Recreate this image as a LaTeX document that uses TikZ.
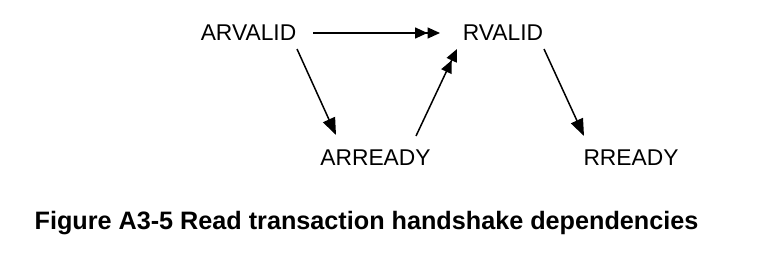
\documentclass[tikz,border=0pt]{standalone}
\usepackage{fontspec}
\setmainfont{Liberation Sans}
\usetikzlibrary{arrows.meta,calc}
\begin{document}
\begin{tikzpicture}[x=1pt,y=-1pt,
  signal/.style={inner sep=0pt,font=\fontsize{22.8}{26}\selectfont},
  dep/.style={line width=1.5pt,-{Triangle[length=17pt,width=13pt]}},
  ddep/.style={line width=1.5pt,-{Triangle[length=12.5pt,width=11pt]Triangle[length=12.5pt,width=11pt]}}]
  \useasboundingbox (0,0) rectangle (767,259);
  % signal names
  \node[signal] (arvalid) at (248.5,33) {ARVALID};
  \node[signal] (rvalid)  at (503,33)   {RVALID};
  \node[signal] (arready) at (375.5,158) {ARREADY};
  \node[signal] (rready)  at (631,158)  {RREADY};
  % caption
  \node[inner sep=0pt,font=\bfseries\fontsize{25.2}{28}\selectfont] (caption) at (366.5,223)
    {Figure A3-5 Read transaction handshake dependencies};
  % dependency arrows
  \draw[ddep] ($(arvalid.center)+(64.5,0)$) -- ($(rvalid.center)+(-63,0)$);
  \draw[dep]  ($(arvalid.center)+(48.5,16)$) -- ($(arready.center)+(-39.5,-23)$);
  \draw[ddep] ($(arready.center)+(40.5,-22)$) -- ($(rvalid.center)+(-46,16)$);
  \draw[dep]  ($(rvalid.center)+(41,16)$) -- ($(rready.center)+(-47,-22)$);
\end{tikzpicture}
\end{document}
